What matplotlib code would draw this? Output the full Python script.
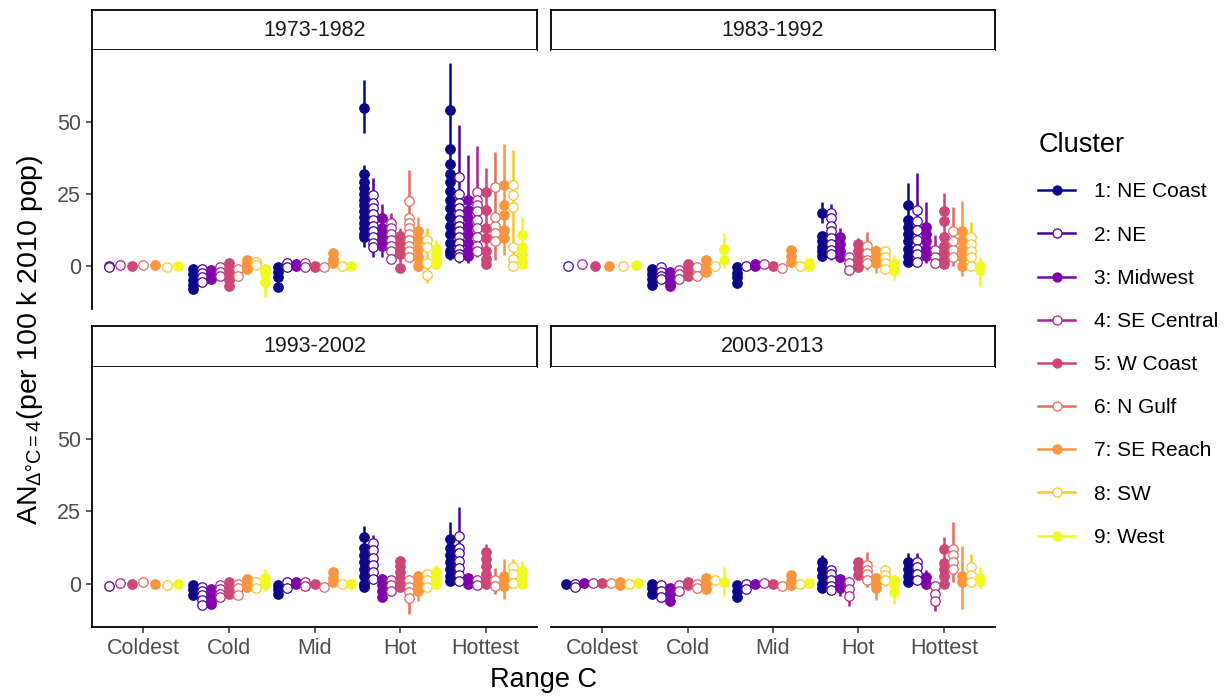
import numpy as np
import matplotlib.pyplot as plt
from matplotlib.lines import Line2D

# ----------------------------
# Data
# ----------------------------

periods = ["1973-1982", "1983-1992", "1993-2002", "2003-2013"]
categories = ["Coldest", "Cold", "Mid", "Hot", "Hottest"]
clusters = ["1: NE Coast", "2: NE", "3: Midwest", "4: SE Central", "5: W Coast",
            "6: N Gulf", "7: SE Reach", "8: SW", "9: West"]

# point estimates: per category, one list per cluster (None = cluster absent)
est_1973 = {
    "Coldest": [None, [0, -0.5], None, [0.3], [-0.2], [0.3], [0.3], [-0.3], [0]],
    "Cold": [[-1, -3, -5, -6.5, -8], [-1, -2.5, -4, -5.5], [-1.5, -3, -4.5], [-0.5, -2, -3.5],
             [1, -1, -3, -5, -7], [-1, -3.5], [2, 0.5, -1], [1.2, 0.2], [-1, -3, -5.5]],
    "Mid": [[-0.5, -2, -4, -7.5], [1, -0.5], [0, 0.5], [1, -0.5], [0, -0.5], [-0.5],
            [4.5, 2.5, 1], [0], [0]],
    "Hot": [[54.7, 32, 29, 27, 25, 23, 21, 19, 17, 15, 13, 11, 10],
            [24.5, 22, 20, 18, 16, 14, 12, 10, 8, 6.5], [16.5, 13, 11, 9, 7],
            [15, 13, 11, 9, 7, 5, 2.5], [10.5, 8, 6, 4, -0.8],
            [22.5, 16.5, 15, 13, 11, 9, 7, 5, 3], [12, 9, 6, 3, 0], [9, 6.7, 1, -3.1],
            [6, 4, 2, 0.5]],
    "Hottest": [[54, 40.5, 35.5, 32, 29, 26, 23, 20, 17, 14, 11, 8, 5, 4],
                [31, 25, 22, 20, 18, 16, 14, 12, 10, 8, 6, 4, 3],
                [23, 19.5, 16.5, 14, 11, 8, 5, 3.5], [25.5, 23, 21, 19, 16, 13, 10, 7, 5],
                [25.5, 19.5, 13, 9.5, 5, 2.5, 0.5], [27.5, 17, 14, 11.5, 8.5],
                [28, 21, 17.5, 12.5, 9.5], [28, 24.5, 20.5, 6.5, 2.5, 0], [10.8, 6.5, 4, 2, 0.5]],
}
err_1973 = {
    "Coldest": [None] * 9,
    "Cold": [[(-9, 0)], None, None, None, [(-8.5, 1.5)], None, [(-1.5, 2.5)], None, [(-11, 0)]],
    "Mid": [[(-8.5, 0)], None, None, None, None, None, [(0.5, 5)], None, None],
    "Hot": [[(46, 64.6), (6.7, 35)], [(3.2, 30.4)], [(3.2, 21.4)], [(1, 18.3)], [(-2, 13)],
            [(1.5, 33.3)], [(-1.5, 17)], [(-6, 13)], [(-1, 9)]],
    "Hottest": [[(2, 70.4)], [(1, 49)], [(1, 38.5)], [(3.2, 41.8)], [(0, 33.9)], [(2, 39.7)],
                [(3.8, 42.2)], [(-1.4, 40.3)], [(-0.5, 16.8)]],
}

est_1983 = {
    "Coldest": [None, [-0.2], None, [0.6], [0], None, [0], [-0.2], [0.2]],
    "Cold": [[-1, -3, -4.5, -6.5], [-0.5, -2, -3.5, -4.5], [-2, -4, -6, -7], [-1.5, -3, -4.5],
             [0.5, -1.5, -3.5], [-0.5, -3.5], [2, 0, -2], [0], [6, 2]],
    "Mid": [[-0.5, -2.5, -4, -6], [-0.2], [-0.2, 0.5], [0.6], [0], [-0.6], [5.5, 3.5, 1.5],
            [-0.2], [1, -0.2]],
    "Hot": [[18.5, 10.5, 8.5, 6.5, 5, 3.5], [18.5, 16.5, 14, 12, 9.5, 7.5, 5.5, 4],
            [10, 7.5, 5, 3], [3, 1, -1.5], [7.5, 5, 2.5, 0, -0.5], [7, 4.5, 2, 1],
            [5, 3, 1], [5, 3, 1, -1], [0.5, -1.5]],
    "Hottest": [[21, 16, 13.5, 11, 8.5, 6, 3.5, 1.5], [19.5, 15.5, 12.5, 9, 6, 4, 1.5],
                [13.5, 11, 8.5, 6, 3.5], [5.5, 3, 1], [19, 15.5, 10, 7, 4.5, 2, 0.5],
                [12, 8.5, 5.5, 3], [12, 9, 6, 3, 0], [10, 7.5, 5, 3, 0], [0, -1.5]],
}
err_1983 = {
    "Coldest": [None] * 9,
    "Cold": [None, None, None, None, None, None, None, None, [(-0.8, 11.3)]],
    "Mid": [None] * 9,
    "Hot": [[(14.8, 22.3), (2.5, 11.5)], [(2, 21.4)], [(1.5, 13)], [(-3.1, 4)], [(-1, 9.5)],
            [(-1.4, 11.9)], [(-2.5, 7.3)], [(-1.5, 6.5)], [(-4.9, 3.8)]],
    "Hottest": [[(1, 28.7)], [(0.5, 32.4)], [(1, 22.3)], [(0, 10.8)], [(-0.5, 25.2)],
                [(0, 20.6)], [(-3.7, 22.7)], [(-1, 15.4)], [(-7.2, 3.2)]],
}

est_1993 = {
    "Coldest": [None, [-0.7], None, [0.1], [0], [0.5], [0], [-0.3], [0]],
    "Cold": [[-0.5, -2, -4], [-1, -2.5, -4, -5.5, -7.5], [-2, -4, -6, -7], [-0.5, -2, -3.5, -4.5],
             [0.5, -1.5, -3.5], [0, -1.5, -4], [1.5, 0, -1], [0.5, -1.5], [2, 0]],
    "Mid": [[-0.5, -2, -3.5], [0.5, -1.5], [0, 0.5], [0.5, -0.7], [0], [-1], [4, 2, 0.5],
            [0], [0]],
    "Hot": [[16, 12.5, 10, 7.5, 5, 2.5, 0, -1], [14, 11.5, 9, 6.5, 4, 1.5],
            [1.5, -0.5, -2.5, -4.5], [1.3, -0.3, -2.4], [8, 6, 4, 2, 0, -1],
            [1.4, -1, -3, -5], [2.5, 0.5, -1.5, -2.5], [3.5, 1.2, -1], [4, 2, 0]],
    "Hottest": [[15.5, 12.5, 10, 7.5, 5, 2.5, 1], [16.5, 12.5, 10.5, 8, 5.5, 3, 1], [2, 0],
                [1.2, -0.3], [11, 8.5, 6, 3.5, 1, 0], [1.2, -0.7], [2.6, 0.5, -0.7],
                [5.7, 3.4, 0.1], [4.5, 2, 0]],
}
err_1993 = {
    "Coldest": [None] * 9,
    "Cold": [None, None, None, None, None, None, None, None, [(-2.4, 5.1)]],
    "Mid": [None] * 9,
    "Hot": [[(-1.5, 19.9)], [(0, 16.8)], [(-5.5, 2.5)], [(-4, 2.5)], [(-1.5, 8.5)],
            [(-10.4, 3.1)], [(-5.9, 4.3)], [(-1.7, 4.7)], [(-1, 6.3)]],
    "Hottest": [[(0, 21.4)], [(0, 26.5)], [(-0.8, 3.3)], [(-1, 1.7)], [(-0.5, 13.6)],
                [(-3.6, 5.5)], [(-5.4, 8.6)], [(-1, 8.4)], [(-0.5, 8)]],
}

est_2003 = {
    "Coldest": [[0], [-0.2, -1], [0.2], [0.2], [0.2], [0.2], [0.5, -0.5], [0], [0.2]],
    "Cold": [[0, -1.5, -3.5], [-0.6, -2.4, -4.7], [-1.5, -3.5, -6], [-0.6, -2.4], [0.5, -0.5],
             [-0.2, -1.4], [2, 0, -2], [1.2], [0.6]],
    "Mid": [[-0.5, -2.5, -4.5], [0, -1.8], [0], [0.2], [0], [-0.9], [3, 1, -0.5], [0], [0.2]],
    "Hot": [[7.5, 5, 2.5, 0, -1.5], [4.9, 3.5, 1.2, -0.9, -2.3], [1.5, -0.5, -1.5],
            [0.6, -1.7, -4.4], [7.5, 5.5, 3], [6.4, 4.9, 3.3, 1.4], [2, 0, -1.5],
            [4.9, 2.9, 1.2], [1.2, -0.2, -2.9]],
    "Hottest": [[7.5, 5, 2.5, 0.5], [7.6, 5.6, 3.5, 1.4], [2.3, 0], [-0.9, -3.5, -6],
                [12, 7, 5, 2.5, 0], [12, 10, 7.5, 5], [2.5, 0.5], [5.6, 2.9, 0.6], [2, 1]],
}
err_2003 = {
    "Coldest": [None] * 9,
    "Cold": [None, None, None, None, None, None, None, None, [(-4.7, 5.6)]],
    "Mid": [None] * 9,
    "Hot": [[(-2, 9.8)], [(-3, 6)], [(-4.1, 2.9)], [(-7.6, 1.5)], [(2.5, 8.2)], [(-1.2, 11.1)],
            [(-5.8, 3.3)], [(-0.9, 6.4)], [(-7.2, 2.9)]],
    "Hottest": [[(0, 10.7)], [(0, 10.7)], [(-0.5, 4.7)], [(-9.3, 0.6)], [(-0.5, 16.3)],
                [(0.6, 21.2)], [(-8.7, 13)], [(0, 10.2)], [(-1.7, 5.6)]],
}

panel_data = [(est_1973, err_1973), (est_1983, err_1983), (est_1993, err_1993), (est_2003, err_2003)]

# ----------------------------
# Styling
# ----------------------------

plt.rcParams["font.family"] = ["Liberation Sans", "DejaVu Sans"]
plt.rcParams["mathtext.fontset"] = "custom"
plt.rcParams["mathtext.rm"] = "Liberation Sans"
plt.rcParams["mathtext.it"] = "Liberation Sans:italic"

colors = plt.cm.plasma(np.linspace(0, 1, 9))
filled = [True, False, True, False, True, False, True, False, True]
DODGE = 0.95
W, H = 1229, 696
TXT = 15.5
TITLE = 19.5


def fig_rect(x0, y0, x1, y1):
    return [x0 / W, 1 - y1 / H, (x1 - x0) / W, (y1 - y0) / H]


def draw_panel(ax, est, err):
    marks = []
    for ci, cat in enumerate(categories):
        present = [k for k in range(9) if est[cat][k] is not None]
        n = len(present)
        for j, k in enumerate(present):
            x = ci + 1 + (j - (n - 1) / 2) * DODGE / n
            segs = err[cat][k]
            if segs:
                for lo, hi in segs:
                    ax.plot([x, x], [lo, hi], color=colors[k], lw=1.8,
                            solid_capstyle="butt", zorder=2)
            marks.append((x, k, est[cat][k]))
    for x, k, vals in marks:
        face = colors[k] if filled[k] else "white"
        ax.plot([x] * len(vals), vals, ls="none", marker="o", ms=6.8,
                mfc=face, mec=colors[k], mew=0.9, zorder=3)


# ----------------------------
# Figure
# ----------------------------

fig = plt.figure(figsize=(W / 100, H / 100), dpi=100)

cols = [(92, 537), (551, 995)]
rows = [((10, 50), (50, 309)), ((326, 367), (367, 627))]

for p, (est, err) in enumerate(panel_data):
    r, c = divmod(p, 2)
    (sy0, sy1), (py0, py1) = rows[r]
    x0, x1 = cols[c]

    # strip
    sax = fig.add_axes(fig_rect(x0, sy0, x1, sy1))
    sax.set_xticks([])
    sax.set_yticks([])
    for s in sax.spines.values():
        s.set_linewidth(1.3)
        s.set_color("black")
    sax.text(0.5, 0.5, periods[p], ha="center", va="center", fontsize=TXT, color="#1A1A1A",
             transform=sax.transAxes)

    ax = fig.add_axes(fig_rect(x0, py0, x1, py1))
    draw_panel(ax, est, err)
    ax.set_xlim(0.4, 5.6)
    ax.set_ylim(-15, 75)
    ax.spines["top"].set_visible(False)
    ax.spines["right"].set_visible(False)
    ax.spines["left"].set_linewidth(1.3)
    ax.spines["bottom"].set_linewidth(1.3)
    ax.tick_params(colors="#333333", labelcolor="#4D4D4D", labelsize=TXT, length=4.5, width=1.1)

    if c == 0:
        ax.set_yticks([0, 25, 50])
    else:
        ax.spines["left"].set_visible(False)
        ax.set_yticks([])
    if r == 1:
        ax.set_xticks(range(1, 6))
        ax.set_xticklabels(categories)
    else:
        ax.spines["bottom"].set_visible(False)
        ax.set_xticks([])

fig.text(543 / W, 1 - 680 / H, "Range C", ha="center", va="center", fontsize=TITLE, color="black")
fig.text(30 / W, 1 - 340 / H, r"AN$_{\Delta\mathregular{°C=4}}$(per 100 k 2010 pop)",
         rotation=90, ha="center", va="center", fontsize=20.5, color="black")

handles = []
for k in range(9):
    handles.append(Line2D([0], [0], color=colors[k], lw=1.8, marker="o", ms=6.5,
                          mfc=colors[k] if filled[k] else "white", mec=colors[k], mew=0.9))
leg = fig.legend(handles, clusters, loc="upper left", bbox_to_anchor=(1030 / W, 1 - 124 / H),
                 frameon=False, title="Cluster", alignment="left", fontsize=15,
                 title_fontsize=TITLE, labelspacing=1.16, handlelength=1.75, handletextpad=0.9,
                 borderaxespad=0)

fig.savefig("out.png", dpi=100)
